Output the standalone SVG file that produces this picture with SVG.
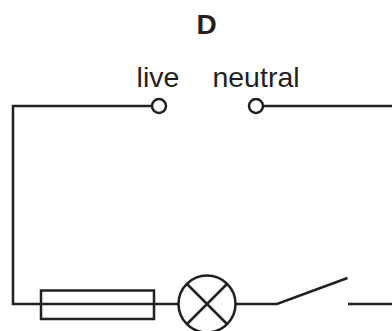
<svg xmlns="http://www.w3.org/2000/svg" width="392" height="331" viewBox="0 0 392 331">
<style>
.w{fill:none;stroke:#231f20;stroke-width:2.500}
.t{font-family:"Liberation Sans",Arial,sans-serif;fill:#231f20}
</style>
<rect width="392" height="331" fill="#fff"/>
<g id="connectors">
<path class="w" d="M152 106H13V304H178"/>
<path class="w" d="M392 106H262"/>
<path class="w" d="M236 304H277L347.500 278"/>
<path class="w" d="M348 304H392"/>
</g>
<text id="title" class="t" x="206.500" y="33.500" font-size="28" font-weight="bold" text-anchor="middle">D</text>
<g id="live"><text class="t" x="158" y="87" font-size="28.500" text-anchor="middle">live</text><circle class="w" cx="159" cy="106" r="7" style="fill:#fff"/></g>
<g id="neutral"><text class="t" x="256" y="87" font-size="28.500" text-anchor="middle">neutral</text><circle class="w" cx="256" cy="106" r="7" style="fill:#fff"/></g>
<g id="fuse"><rect class="w" x="41" y="290.500" width="113" height="28.500"/></g>
<g id="lamp"><circle class="w" cx="207" cy="304" r="28.500"/><path class="w" d="M187 284L227 324M227 284L187 324"/></g>
</svg>
